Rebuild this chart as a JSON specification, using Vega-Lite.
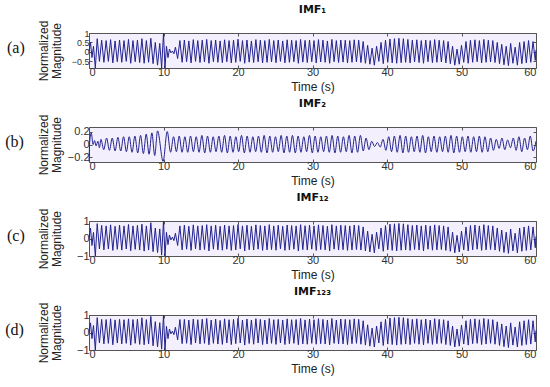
{
 "$schema": "https://vega.github.io/schema/vega-lite/v6.json",
 "background": "white",
 "padding": {"left": 5, "top": 3, "right": 5, "bottom": 2},
 "spacing": 4,
 "config": {
   "view": {"stroke": "#555", "strokeWidth": 1, "fill": "#f3effc"},
   "axis": {"labelFont": "Liberation Sans", "labelFontSize": 11, "labelColor": "#333", "titleFont": "Liberation Sans", "titleFontSize": 12, "titleFontWeight": "normal", "titleColor": "#222", "domain": false, "grid": false, "tickColor": "#555", "tickSize": -3, "labelPadding": 3, "labelOverlap": false},
   "axisX": {"titlePadding": 4, "labelPadding": 1},
   "axisY": {"titlePadding": 2, "titleLineHeight": 13, "minExtent": 24, "maxExtent": 24},
   "title": {"font": "DejaVu Sans", "fontSize": 11, "fontWeight": "bold", "color": "#111"}
 },
 "datasets": {
  "imf": [
   {"t":0,"a":0.05,"c":0,"d":0},
   {"t":0.2,"a":0.5,"c":0.6,"d":0.55},
   {"t":0.4,"a":-0.3,"c":-0.4,"d":-0.35},
   {"t":0.6,"a":0.3,"c":0.35,"d":0.4},
   {"t":0.85,"a":-0.85,"c":-1,"d":-1},
   {"t":1.1,"a":0.7,"c":0.85,"d":0.85},
   {"t":1.4,"a":-0.5,"c":-0.6,"d":-0.6},
   {"t":1.7,"a":0.62,"c":0.75,"d":0.75},
   {"t":2.0,"a":-0.55,"c":-0.65,"d":-0.65},
   {"t":2.3,"a":0.6,"c":0.72,"d":0.74},
   {"t":2.6,"a":-0.5,"c":-0.6,"d":-0.62},
   {"t":2.9,"a":0.65,"c":0.78,"d":0.78},
   {"t":3.2,"a":-0.58,"c":-0.68,"d":-0.7},
   {"t":3.5,"a":0.58,"c":0.7,"d":0.72},
   {"t":3.8,"a":-0.52,"c":-0.62,"d":-0.6},
   {"t":4.1,"a":0.63,"c":0.76,"d":0.75},
   {"t":4.4,"a":-0.55,"c":-0.66,"d":-0.65},
   {"t":4.7,"a":0.6,"c":0.72,"d":0.73},
   {"t":5.0,"a":-0.5,"c":-0.6,"d":-0.62},
   {"t":5.3,"a":0.66,"c":0.8,"d":0.78},
   {"t":5.6,"a":-0.6,"c":-0.7,"d":-0.72},
   {"t":5.9,"a":0.6,"c":0.72,"d":0.74},
   {"t":6.2,"a":-0.52,"c":-0.62,"d":-0.62},
   {"t":6.5,"a":0.62,"c":0.75,"d":0.76},
   {"t":6.8,"a":-0.56,"c":-0.66,"d":-0.68},
   {"t":7.1,"a":0.7,"c":0.82,"d":0.84},
   {"t":7.4,"a":-0.6,"c":-0.72,"d":-0.7},
   {"t":7.7,"a":0.6,"c":0.72,"d":0.74},
   {"t":8.0,"a":-0.55,"c":-0.66,"d":-0.65},
   {"t":8.3,"a":0.72,"c":0.9,"d":0.92},
   {"t":8.6,"a":-0.62,"c":-0.75,"d":-0.76},
   {"t":8.9,"a":0.5,"c":0.6,"d":0.62},
   {"t":9.2,"a":-0.7,"c":-0.8,"d":-0.82},
   {"t":9.5,"a":0.45,"c":0.55,"d":0.56},
   {"t":9.75,"a":-0.85,"c":-0.95,"d":-0.95},
   {"t":10.0,"a":1,"c":1,"d":1},
   {"t":10.2,"a":-0.85,"c":-1,"d":-1},
   {"t":10.4,"a":0.3,"c":0.35,"d":0.35},
   {"t":10.6,"a":-0.3,"c":-0.35,"d":-0.35},
   {"t":10.8,"a":0.15,"c":0.2,"d":0.2},
   {"t":11.0,"a":-0.05,"c":-0.08,"d":-0.08},
   {"t":11.2,"a":0.05,"c":0.08,"d":0.08},
   {"t":11.4,"a":-0.1,"c":-0.12,"d":-0.12},
   {"t":11.6,"a":0.25,"c":0.3,"d":0.3},
   {"t":11.9,"a":-0.35,"c":-0.4,"d":-0.42},
   {"t":12.2,"a":0.6,"c":0.72,"d":0.74},{"t":12.5,"a":-0.55,"c":-0.65,"d":-0.64},
   {"t":12.8,"a":0.63,"c":0.76,"d":0.75},{"t":13.1,"a":-0.52,"c":-0.61,"d":-0.62},
   {"t":13.4,"a":0.58,"c":0.7,"d":0.71},{"t":13.7,"a":-0.58,"c":-0.68,"d":-0.69},
   {"t":14.0,"a":0.65,"c":0.78,"d":0.77},{"t":14.3,"a":-0.5,"c":-0.59,"d":-0.6},
   {"t":14.6,"a":0.6,"c":0.72,"d":0.73},{"t":14.9,"a":-0.56,"c":-0.66,"d":-0.65},
   {"t":15.2,"a":0.62,"c":0.74,"d":0.76},{"t":15.5,"a":-0.53,"c":-0.63,"d":-0.62},
   {"t":15.8,"a":0.66,"c":0.79,"d":0.8},{"t":16.1,"a":-0.6,"c":-0.71,"d":-0.7},
   {"t":16.4,"a":0.6,"c":0.72,"d":0.71},{"t":16.7,"a":-0.52,"c":-0.61,"d":-0.62},
   {"t":17.0,"a":0.63,"c":0.76,"d":0.77},{"t":17.3,"a":-0.55,"c":-0.65,"d":-0.66},
   {"t":17.6,"a":0.58,"c":0.7,"d":0.69},{"t":17.9,"a":-0.57,"c":-0.67,"d":-0.68},
   {"t":18.2,"a":0.64,"c":0.77,"d":0.78},{"t":18.5,"a":-0.52,"c":-0.61,"d":-0.6},
   {"t":18.8,"a":0.6,"c":0.72,"d":0.73},{"t":19.1,"a":-0.58,"c":-0.68,"d":-0.69},
   {"t":19.4,"a":0.62,"c":0.74,"d":0.75},{"t":19.7,"a":-0.55,"c":-0.65,"d":-0.64},
   {"t":20.0,"a":0.67,"c":0.8,"d":0.81},{"t":20.3,"a":-0.5,"c":-0.59,"d":-0.6},
   {"t":20.6,"a":0.6,"c":0.72,"d":0.71},{"t":20.9,"a":-0.6,"c":-0.71,"d":-0.72},
   {"t":21.2,"a":0.63,"c":0.76,"d":0.77},{"t":21.5,"a":-0.54,"c":-0.64,"d":-0.63},
   {"t":21.8,"a":0.58,"c":0.7,"d":0.71},{"t":22.1,"a":-0.56,"c":-0.66,"d":-0.67},
   {"t":22.4,"a":0.65,"c":0.78,"d":0.79},{"t":22.7,"a":-0.52,"c":-0.61,"d":-0.6},
   {"t":23.0,"a":0.62,"c":0.74,"d":0.75},{"t":23.3,"a":-0.58,"c":-0.68,"d":-0.69},
   {"t":23.6,"a":0.6,"c":0.72,"d":0.71},{"t":23.9,"a":-0.55,"c":-0.65,"d":-0.66},
   {"t":24.2,"a":0.66,"c":0.79,"d":0.8},{"t":24.5,"a":-0.53,"c":-0.63,"d":-0.62},
   {"t":24.8,"a":0.6,"c":0.72,"d":0.73},{"t":25.1,"a":-0.57,"c":-0.67,"d":-0.68},
   {"t":25.4,"a":0.63,"c":0.76,"d":0.75},{"t":25.7,"a":-0.5,"c":-0.59,"d":-0.6},
   {"t":26.0,"a":0.58,"c":0.7,"d":0.71},{"t":26.3,"a":-0.58,"c":-0.68,"d":-0.69},
   {"t":26.6,"a":0.64,"c":0.77,"d":0.78},{"t":26.9,"a":-0.55,"c":-0.65,"d":-0.64},
   {"t":27.2,"a":0.62,"c":0.74,"d":0.73},{"t":27.5,"a":-0.52,"c":-0.61,"d":-0.62},
   {"t":27.8,"a":0.6,"c":0.72,"d":0.74},{"t":28.1,"a":-0.6,"c":-0.71,"d":-0.7},
   {"t":28.4,"a":0.66,"c":0.79,"d":0.8},{"t":28.7,"a":-0.54,"c":-0.64,"d":-0.65},
   {"t":29.0,"a":0.61,"c":0.73,"d":0.72},{"t":29.3,"a":-0.56,"c":-0.66,"d":-0.67},
   {"t":29.6,"a":0.63,"c":0.76,"d":0.77},{"t":29.9,"a":-0.52,"c":-0.61,"d":-0.62},
   {"t":30.2,"a":0.6,"c":0.72,"d":0.73},{"t":30.5,"a":-0.58,"c":-0.68,"d":-0.67},
   {"t":30.8,"a":0.65,"c":0.78,"d":0.79},{"t":31.1,"a":-0.53,"c":-0.63,"d":-0.64},
   {"t":31.4,"a":0.62,"c":0.74,"d":0.75},{"t":31.7,"a":-0.55,"c":-0.65,"d":-0.66},
   {"t":32.0,"a":0.58,"c":0.7,"d":0.71},{"t":32.3,"a":-0.6,"c":-0.71,"d":-0.7},
   {"t":32.6,"a":0.66,"c":0.79,"d":0.8},{"t":32.9,"a":-0.52,"c":-0.61,"d":-0.62},
   {"t":33.2,"a":0.6,"c":0.72,"d":0.71},{"t":33.5,"a":-0.56,"c":-0.66,"d":-0.65},
   {"t":33.8,"a":0.63,"c":0.76,"d":0.77},{"t":34.1,"a":-0.54,"c":-0.64,"d":-0.65},
   {"t":34.4,"a":0.62,"c":0.74,"d":0.75},{"t":34.7,"a":-0.58,"c":-0.68,"d":-0.69},
   {"t":35.0,"a":0.6,"c":0.72,"d":0.73},{"t":35.3,"a":-0.55,"c":-0.65,"d":-0.64},
   {"t":35.6,"a":0.64,"c":0.77,"d":0.78},{"t":35.9,"a":-0.53,"c":-0.63,"d":-0.62},
   {"t":36.2,"a":0.62,"c":0.74,"d":0.75},{"t":36.5,"a":-0.56,"c":-0.66,"d":-0.67},
   {"t":36.8,"a":0.55,"c":0.66,"d":0.67},{"t":37.1,"a":-0.6,"c":-0.71,"d":-0.72},
   {"t":37.4,"a":0.35,"c":0.42,"d":0.44},{"t":37.7,"a":-0.65,"c":-0.77,"d":-0.78},
   {"t":38.0,"a":0.2,"c":0.24,"d":0.25},{"t":38.3,"a":-0.7,"c":-0.82,"d":-0.83},
   {"t":38.6,"a":0.3,"c":0.36,"d":0.37},{"t":38.9,"a":-0.5,"c":-0.59,"d":-0.6},
   {"t":39.2,"a":0.5,"c":0.6,"d":0.61},{"t":39.5,"a":-0.62,"c":-0.73,"d":-0.74},
   {"t":39.8,"a":0.62,"c":0.74,"d":0.75},{"t":40.1,"a":-0.55,"c":-0.65,"d":-0.66},
   {"t":40.4,"a":0.68,"c":0.82,"d":0.83},{"t":40.7,"a":-0.58,"c":-0.68,"d":-0.69},
   {"t":41.0,"a":0.7,"c":0.84,"d":0.85},{"t":41.3,"a":-0.6,"c":-0.71,"d":-0.72},
   {"t":41.6,"a":0.72,"c":0.86,"d":0.87},{"t":41.9,"a":-0.57,"c":-0.67,"d":-0.68},
   {"t":42.2,"a":0.7,"c":0.84,"d":0.85},{"t":42.5,"a":-0.55,"c":-0.65,"d":-0.66},
   {"t":42.8,"a":0.66,"c":0.79,"d":0.8},{"t":43.1,"a":-0.58,"c":-0.68,"d":-0.69},
   {"t":43.4,"a":0.62,"c":0.74,"d":0.75},{"t":43.7,"a":-0.53,"c":-0.63,"d":-0.62},
   {"t":44.0,"a":0.64,"c":0.77,"d":0.78},{"t":44.3,"a":-0.56,"c":-0.66,"d":-0.67},
   {"t":44.6,"a":0.6,"c":0.72,"d":0.73},{"t":44.9,"a":-0.6,"c":-0.71,"d":-0.7},
   {"t":45.2,"a":0.63,"c":0.76,"d":0.77},{"t":45.5,"a":-0.52,"c":-0.61,"d":-0.62},
   {"t":45.8,"a":0.6,"c":0.72,"d":0.71},{"t":46.1,"a":-0.57,"c":-0.67,"d":-0.68},
   {"t":46.4,"a":0.65,"c":0.78,"d":0.79},{"t":46.7,"a":-0.55,"c":-0.65,"d":-0.64},
   {"t":47.0,"a":0.62,"c":0.74,"d":0.75},{"t":47.3,"a":-0.53,"c":-0.63,"d":-0.62},
   {"t":47.6,"a":0.6,"c":0.72,"d":0.73},{"t":47.9,"a":-0.58,"c":-0.68,"d":-0.69},
   {"t":48.2,"a":0.55,"c":0.66,"d":0.67},{"t":48.5,"a":-0.62,"c":-0.73,"d":-0.74},
   {"t":48.8,"a":0.3,"c":0.36,"d":0.37},{"t":49.1,"a":-0.7,"c":-0.82,"d":-0.83},
   {"t":49.4,"a":0.15,"c":0.18,"d":0.2},{"t":49.7,"a":-0.65,"c":-0.77,"d":-0.78},
   {"t":50.0,"a":0.35,"c":0.42,"d":0.43},{"t":50.3,"a":-0.55,"c":-0.65,"d":-0.66},
   {"t":50.6,"a":0.55,"c":0.66,"d":0.67},{"t":50.9,"a":-0.6,"c":-0.71,"d":-0.72},
   {"t":51.2,"a":0.62,"c":0.74,"d":0.75},{"t":51.5,"a":-0.55,"c":-0.65,"d":-0.64},
   {"t":51.8,"a":0.64,"c":0.77,"d":0.78},{"t":52.1,"a":-0.52,"c":-0.61,"d":-0.62},
   {"t":52.4,"a":0.6,"c":0.72,"d":0.73},{"t":52.7,"a":-0.58,"c":-0.68,"d":-0.69},
   {"t":53.0,"a":0.66,"c":0.79,"d":0.8},{"t":53.3,"a":-0.55,"c":-0.65,"d":-0.66},
   {"t":53.6,"a":0.62,"c":0.74,"d":0.75},{"t":53.9,"a":-0.53,"c":-0.63,"d":-0.62},
   {"t":54.2,"a":0.6,"c":0.72,"d":0.73},{"t":54.5,"a":-0.56,"c":-0.66,"d":-0.67},
   {"t":54.8,"a":0.5,"c":0.6,"d":0.61},{"t":55.1,"a":-0.62,"c":-0.73,"d":-0.74},
   {"t":55.4,"a":0.4,"c":0.48,"d":0.49},{"t":55.7,"a":-0.68,"c":-0.8,"d":-0.81},
   {"t":56.0,"a":0.3,"c":0.36,"d":0.37},{"t":56.3,"a":-0.72,"c":-0.85,"d":-0.86},
   {"t":56.6,"a":0.45,"c":0.54,"d":0.55},{"t":56.9,"a":-0.6,"c":-0.71,"d":-0.72},
   {"t":57.2,"a":0.25,"c":0.3,"d":0.31},{"t":57.5,"a":-0.7,"c":-0.82,"d":-0.83},
   {"t":57.8,"a":0.5,"c":0.6,"d":0.61},{"t":58.1,"a":-0.62,"c":-0.73,"d":-0.74},
   {"t":58.4,"a":0.55,"c":0.66,"d":0.67},{"t":58.7,"a":-0.58,"c":-0.68,"d":-0.69},
   {"t":59.0,"a":0.6,"c":0.72,"d":0.73},{"t":59.3,"a":-0.55,"c":-0.65,"d":-0.66},
   {"t":59.6,"a":0.55,"c":0.66,"d":0.67},{"t":59.9,"a":-0.45,"c":-0.53,"d":-0.54},
   {"t":60,"a":0.1,"c":0.12,"d":0.12}
  ],
  "imf2": [
   {"t":0,"v":-0.26},{"t":0.1,"v":0.05},{"t":0.3,"v":0.18},{"t":0.55,"v":0.0},{"t":0.75,"v":0.06},{"t":0.95,"v":-0.02},{"t":1.2,"v":0.05},{"t":1.4,"v":-0.05},
   {"t":1.6,"v":0.08},{"t":1.98,"v":-0.08},{"t":2.36,"v":0.1},{"t":2.74,"v":-0.09},{"t":3.12,"v":0.1},{"t":3.5,"v":-0.1},{"t":3.88,"v":0.11},{"t":4.26,"v":-0.1},
   {"t":4.64,"v":0.12},{"t":5.02,"v":-0.11},{"t":5.4,"v":0.12},{"t":5.78,"v":-0.12},{"t":6.16,"v":0.13},{"t":6.54,"v":-0.13},{"t":6.92,"v":0.14},{"t":7.3,"v":-0.14},
   {"t":7.68,"v":0.16},{"t":8.06,"v":-0.15},{"t":8.44,"v":0.18},{"t":8.82,"v":-0.17},{"t":9.2,"v":0.21},{"t":9.95,"v":-0.26},{"t":10.5,"v":0.2},{"t":10.95,"v":-0.12},
   {"t":11.35,"v":0.12},{"t":11.73,"v":-0.11},{"t":12.11,"v":0.13},{"t":12.49,"v":-0.12},{"t":12.87,"v":0.12},{"t":13.25,"v":-0.12},{"t":13.63,"v":0.13},{"t":14.01,"v":-0.11},
   {"t":14.39,"v":0.12},{"t":14.77,"v":-0.12},{"t":15.15,"v":0.14},{"t":15.53,"v":-0.13},{"t":15.91,"v":0.13},{"t":16.29,"v":-0.12},{"t":16.67,"v":0.12},{"t":17.05,"v":-0.11},
   {"t":17.43,"v":0.13},{"t":17.81,"v":-0.12},{"t":18.19,"v":0.14},{"t":18.57,"v":-0.13},{"t":18.95,"v":0.13},{"t":19.33,"v":-0.12},{"t":19.71,"v":0.12},{"t":20.09,"v":-0.11},
   {"t":20.47,"v":0.14},{"t":20.85,"v":-0.13},{"t":21.23,"v":0.13},{"t":21.61,"v":-0.12},{"t":21.99,"v":0.12},{"t":22.37,"v":-0.11},{"t":22.75,"v":0.13},{"t":23.13,"v":-0.12},
   {"t":23.51,"v":0.14},{"t":23.89,"v":-0.13},{"t":24.27,"v":0.13},{"t":24.65,"v":-0.12},{"t":25.03,"v":0.12},{"t":25.41,"v":-0.11},{"t":25.79,"v":0.14},{"t":26.17,"v":-0.13},
   {"t":26.55,"v":0.13},{"t":26.93,"v":-0.12},{"t":27.31,"v":0.14},{"t":27.69,"v":-0.13},{"t":28.07,"v":0.13},{"t":28.45,"v":-0.12},{"t":28.83,"v":0.12},{"t":29.21,"v":-0.11},
   {"t":29.59,"v":0.14},{"t":29.97,"v":-0.13},{"t":30.35,"v":0.13},{"t":30.73,"v":-0.12},{"t":31.11,"v":0.12},{"t":31.49,"v":-0.11},{"t":31.87,"v":0.13},{"t":32.25,"v":-0.12},
   {"t":32.63,"v":0.14},{"t":33.01,"v":-0.13},{"t":33.39,"v":0.13},{"t":33.77,"v":-0.12},{"t":34.15,"v":0.12},{"t":34.53,"v":-0.11},{"t":34.91,"v":0.14},{"t":35.29,"v":-0.13},
   {"t":35.67,"v":0.13},{"t":36.05,"v":-0.12},{"t":36.43,"v":0.14},{"t":36.81,"v":-0.1},{"t":37.19,"v":0.1},{"t":37.57,"v":-0.08},{"t":37.95,"v":0.05},{"t":38.33,"v":-0.03},
   {"t":38.71,"v":0.03},{"t":39.09,"v":-0.04},{"t":39.47,"v":0.08},{"t":39.85,"v":-0.09},{"t":40.23,"v":0.12},{"t":40.61,"v":-0.11},{"t":40.99,"v":0.13},{"t":41.37,"v":-0.12},
   {"t":41.75,"v":0.14},{"t":42.13,"v":-0.13},{"t":42.51,"v":0.13},{"t":42.89,"v":-0.12},{"t":43.27,"v":0.12},{"t":43.65,"v":-0.11},{"t":44.03,"v":0.13},{"t":44.41,"v":-0.12},
   {"t":44.79,"v":0.14},{"t":45.17,"v":-0.13},{"t":45.55,"v":0.12},{"t":45.93,"v":-0.11},{"t":46.31,"v":0.13},{"t":46.69,"v":-0.12},{"t":47.07,"v":0.12},{"t":47.45,"v":-0.11},
   {"t":47.83,"v":0.13},{"t":48.21,"v":-0.12},{"t":48.59,"v":0.14},{"t":48.97,"v":-0.13},{"t":49.35,"v":0.13},{"t":49.73,"v":-0.12},{"t":50.11,"v":0.12},{"t":50.49,"v":-0.11},
   {"t":50.87,"v":0.13},{"t":51.25,"v":-0.12},{"t":51.63,"v":0.12},{"t":52.01,"v":-0.11},{"t":52.39,"v":0.13},{"t":52.77,"v":-0.12},{"t":53.15,"v":0.12},{"t":53.53,"v":-0.11},
   {"t":53.91,"v":0.1},{"t":54.29,"v":-0.09},{"t":54.67,"v":0.08},{"t":55.05,"v":-0.06},{"t":55.43,"v":0.1},{"t":55.81,"v":-0.08},{"t":56.19,"v":0.07},{"t":56.57,"v":-0.05},
   {"t":56.95,"v":0.1},{"t":57.33,"v":-0.09},{"t":57.71,"v":0.12},{"t":58.09,"v":-0.11},{"t":58.47,"v":0.1},{"t":58.85,"v":-0.08},{"t":59.23,"v":0.13},{"t":59.61,"v":-0.1},
   {"t":60,"v":0.05}
  ]
 },
 "vconcat": [
  {
   "title": {"text": "(a)", "orient": "left", "angle": 0, "font": "Liberation Serif", "fontSize": 16, "fontWeight": "normal", "color": "#111", "anchor": "middle", "offset": -6, "baseline": "middle", "align": "right"},
   "vconcat": [{
    "title": {"text": "IMF₁", "frame": "group", "offset": 5},
    "width": 447, "height": 35,
    "data": {"name": "imf"},
    "layer": [
     {"mark": {"type": "line", "color": "#22228f", "strokeWidth": 1},
      "encoding": {
       "x": {"field": "t", "type": "quantitative", "scale": {"domain": [0, 60], "nice": false}, "axis": {"values": [0, 10, 20, 30, 40, 50, 60], "title": "Time (s)"}},
       "y": {"field": "a", "type": "quantitative", "scale": {"domain": [-0.85, 1], "nice": false, "zero": false}, "axis": {"values": [-0.5, 0, 0.5, 1], "format": "~g", "labelFontSize": 9, "title": ["Normalized", "Magnitude"]}}
      }},
     {"mark": {"type": "line", "opacity": 0},
      "encoding": {
       "x": {"field": "t", "type": "quantitative", "axis": {"orient": "top", "values": [0, 10, 20, 30, 40, 50, 60], "labels": false, "title": null}},
       "y": {"field": "a", "type": "quantitative", "axis": {"orient": "right", "values": [-0.5, 0, 0.5, 1], "labels": false, "title": null, "minExtent": 0, "maxExtent": 0}}
      }}
    ],
    "resolve": {"axis": {"x": "independent", "y": "independent"}}
   }]
  },
  {
   "title": {"text": "(b)", "orient": "left", "angle": 0, "font": "Liberation Serif", "fontSize": 16, "fontWeight": "normal", "color": "#111", "anchor": "middle", "offset": -6, "baseline": "middle", "align": "right"},
   "vconcat": [{
    "title": {"text": "IMF₂", "frame": "group", "offset": 5},
    "width": 447, "height": 35,
    "data": {"name": "imf2"},
    "layer": [
     {"mark": {"type": "line", "color": "#22228f", "strokeWidth": 1, "interpolate": "monotone"},
      "encoding": {
       "x": {"field": "t", "type": "quantitative", "scale": {"domain": [0, 60], "nice": false}, "axis": {"values": [0, 10, 20, 30, 40, 50, 60], "title": "Time (s)"}},
       "y": {"field": "v", "type": "quantitative", "scale": {"domain": [-0.27, 0.27], "nice": false, "zero": false}, "axis": {"values": [-0.2, 0, 0.2], "format": "~g", "title": ["Normalized", "Magnitude"]}}
      }},
     {"mark": {"type": "line", "opacity": 0},
      "encoding": {
       "x": {"field": "t", "type": "quantitative", "axis": {"orient": "top", "values": [0, 10, 20, 30, 40, 50, 60], "labels": false, "title": null}},
       "y": {"field": "v", "type": "quantitative", "axis": {"orient": "right", "values": [-0.2, 0, 0.2], "labels": false, "title": null, "minExtent": 0, "maxExtent": 0}}
      }}
    ],
    "resolve": {"axis": {"x": "independent", "y": "independent"}}
   }]
  },
  {
   "title": {"text": "(c)", "orient": "left", "angle": 0, "font": "Liberation Serif", "fontSize": 16, "fontWeight": "normal", "color": "#111", "anchor": "middle", "offset": -6, "baseline": "middle", "align": "right"},
   "vconcat": [{
    "title": {"text": "IMF₁₂", "frame": "group", "offset": 5},
    "width": 447, "height": 35,
    "data": {"name": "imf"},
    "layer": [
     {"mark": {"type": "line", "color": "#22228f", "strokeWidth": 1},
      "encoding": {
       "x": {"field": "t", "type": "quantitative", "scale": {"domain": [0, 60], "nice": false}, "axis": {"values": [0, 10, 20, 30, 40, 50, 60], "title": "Time (s)"}},
       "y": {"field": "c", "type": "quantitative", "scale": {"domain": [-1, 1], "nice": false, "zero": false}, "axis": {"values": [-1, 0, 1], "format": "~g", "title": ["Normalized", "Magnitude"]}}
      }},
     {"mark": {"type": "line", "opacity": 0},
      "encoding": {
       "x": {"field": "t", "type": "quantitative", "axis": {"orient": "top", "values": [0, 10, 20, 30, 40, 50, 60], "labels": false, "title": null}},
       "y": {"field": "c", "type": "quantitative", "axis": {"orient": "right", "values": [-1, 0, 1], "labels": false, "title": null, "minExtent": 0, "maxExtent": 0}}
      }}
    ],
    "resolve": {"axis": {"x": "independent", "y": "independent"}}
   }]
  },
  {
   "title": {"text": "(d)", "orient": "left", "angle": 0, "font": "Liberation Serif", "fontSize": 16, "fontWeight": "normal", "color": "#111", "anchor": "middle", "offset": -6, "baseline": "middle", "align": "right"},
   "vconcat": [{
    "title": {"text": "IMF₁₂₃", "frame": "group", "offset": 5},
    "width": 447, "height": 35,
    "data": {"name": "imf"},
    "layer": [
     {"mark": {"type": "line", "color": "#22228f", "strokeWidth": 1},
      "encoding": {
       "x": {"field": "t", "type": "quantitative", "scale": {"domain": [0, 60], "nice": false}, "axis": {"values": [0, 10, 20, 30, 40, 50, 60], "title": "Time (s)"}},
       "y": {"field": "d", "type": "quantitative", "scale": {"domain": [-1, 1], "nice": false, "zero": false}, "axis": {"values": [-1, 0, 1], "format": "~g", "title": ["Normalized", "Magnitude"]}}
      }},
     {"mark": {"type": "line", "opacity": 0},
      "encoding": {
       "x": {"field": "t", "type": "quantitative", "axis": {"orient": "top", "values": [0, 10, 20, 30, 40, 50, 60], "labels": false, "title": null}},
       "y": {"field": "d", "type": "quantitative", "axis": {"orient": "right", "values": [-1, 0, 1], "labels": false, "title": null, "minExtent": 0, "maxExtent": 0}}
      }}
    ],
    "resolve": {"axis": {"x": "independent", "y": "independent"}}
   }]
  }
 ]
}
